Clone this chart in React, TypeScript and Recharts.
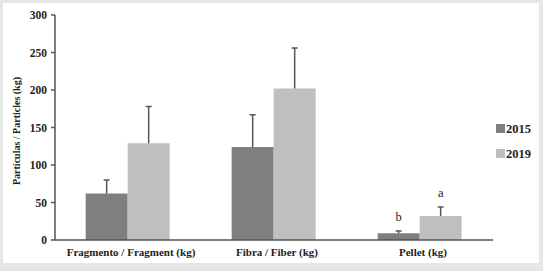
import { BarChart, Bar, XAxis, YAxis } from 'recharts';

const categories = ['Fragmento / Fragment (kg)', 'Fibra / Fiber (kg)', 'Pellet (kg)'];
const mean2015 = [62, 124, 9];
const mean2019 = [129, 202, 32];
const err2015 = [18, 43, 3];
const err2019 = [49, 54, 12];
const letters2015 = ['', '', 'b'];
const letters2019 = ['', '', 'a'];
const yTicks = [0, 50, 100, 150, 200, 250, 300];

const DARK = '#7e7f81';
const LIGHT = '#bfbfbf';
const AXIS = '#555555';
const TEXT = '#222222';
const FONT = "'Liberation Serif', 'Times New Roman', Times, serif";

const data = categories.map((name, i) => ({
  name,
  y2015: mean2015[i],
  y2019: mean2019[i],
  pos: i,
}));

// whisker going up from the bar top, scaled from the bar's own pixel height
function makeErr(errs: number[], means: number[], letters: string[]) {
  return (props: any) => {
    const { x, y, width, height, index } = props;
    const pxPerUnit = height / means[index];
    const top = y - errs[index] * pxPerUnit;
    const cx = x + width / 2;
    return (
      <g>
        <line x1={cx} y1={y} x2={cx} y2={top} stroke={AXIS} strokeWidth={1.5} />
        <line x1={cx - 3} y1={top} x2={cx + 3} y2={top} stroke={AXIS} strokeWidth={1.5} />
        {letters[index] && (
          <text x={cx} y={top - 10} textAnchor="middle" style={{ fontFamily: FONT, fontSize: 12.5 }} fill={TEXT}>
            {letters[index]}
          </text>
        )}
      </g>
    );
  };
}

function YLabel() {
  return (
    <text
      transform="translate(19.5,131) rotate(-90)"
      textAnchor="middle"
      style={{ fontFamily: FONT, fontWeight: 'bold', fontSize: 10 }}
      fill={TEXT}
    >
      Partículas / Particles (kg)
    </text>
  );
}

const tickStyle = { fontFamily: FONT, fontWeight: 'bold', fill: TEXT };

export default function App() {
  return (
    <div style={{ position: 'absolute', left: 0, top: 0, width: 543, height: 271, background: '#e6e6e6', fontFamily: FONT }}>
      <div style={{ position: 'absolute', left: 3, top: 3, width: 536, height: 260, background: '#ffffff' }} />
      <div style={{ position: 'absolute', left: 0, top: 0 }}>
        <BarChart
          width={543}
          height={271}
          data={data}
          margin={{ top: 15, right: 50, bottom: 0, left: 0 }}
          barCategoryGap="21%"
          barGap={0}
          style={{ fontFamily: FONT }}
        >
          <XAxis
            dataKey="name"
            xAxisId="cat"
            height={31}
            tickLine={false}
            axisLine={{ stroke: AXIS, strokeWidth: 1.5 }}
            tick={{ ...tickStyle, fontSize: 11, dx: 3, style: { fontFamily: FONT } }}
            interval={0}
          />
          <XAxis
            xAxisId="edges"
            type="number"
            dataKey="pos"
            domain={[0, 3]}
            ticks={[0, 1, 2, 3]}
            height={0}
            axisLine={false}
            tick={false}
            tickSize={4}
            tickLine={{ stroke: AXIS, strokeWidth: 1.5 }}
          />
          <YAxis
            domain={[0, 300]}
            ticks={yTicks}
            width={55}
            interval={0}
            tickSize={4}
            tickMargin={4}
            axisLine={{ stroke: AXIS, strokeWidth: 1.5 }}
            tickLine={{ stroke: AXIS, strokeWidth: 1.5 }}
            tick={{ ...tickStyle, fontSize: 11.5, style: { fontFamily: FONT } }}
            label={{ content: () => <YLabel /> }}
          />
          <Bar
            xAxisId="cat"
            dataKey="y2015"
            fill={DARK}
            isAnimationActive={false}
            label={makeErr(err2015, mean2015, letters2015)}
          />
          <Bar
            xAxisId="cat"
            dataKey="y2019"
            fill={LIGHT}
            isAnimationActive={false}
            label={makeErr(err2019, mean2019, letters2019)}
          />
        </BarChart>
      </div>
      <svg style={{ position: 'absolute', left: 0, top: 0, fontFamily: FONT }} width={543} height={271}>
        <rect x={496} y={124} width={9} height={9} fill={DARK} />
        <text x={506} y={133} style={{ fontFamily: FONT, fontWeight: 'bold', fontSize: 12.5 }} fill={TEXT}>2015</text>
        <rect x={496} y={149} width={9} height={9} fill={LIGHT} />
        <text x={506} y={158} style={{ fontFamily: FONT, fontWeight: 'bold', fontSize: 12.5 }} fill={TEXT}>2019</text>
      </svg>
    </div>
  );
}
